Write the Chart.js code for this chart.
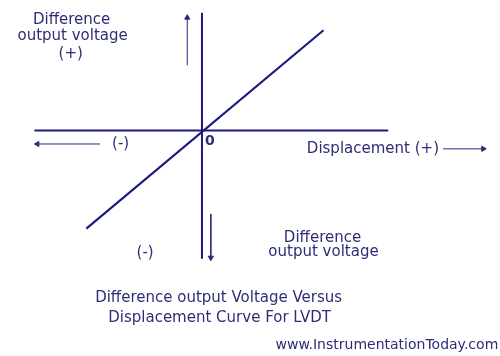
<!DOCTYPE html>
<html>
<head>
<meta charset="utf-8">
<script src="https://cdn.jsdelivr.net/npm/chart.js@4"></script>
<style>
  html, body { margin: 0; padding: 0; background: #ffffff; }
  #wrap { width: 500px; height: 356px; }
</style>
</head>
<body>
<div id="wrap"><canvas id="c" width="500" height="356"></canvas></div>
<script>
// ---- data (displacement units, origin at 0) ----
const curveDisplacement = [-118, 124];
const curveVoltage = [-101, 103];
const displacementAxisX = [-171, 190];
const voltageAxisY = [121, -132];
const arrowUpX = -15, arrowUpY = [67, 116];
const arrowDownX = 9, arrowDownY = [-86, -131];
const arrowLeftY = -14, arrowLeftX = [-104, -168];
const arrowRightY = -19, arrowRightX = [246, 287];

const topVoltageLabel = ["Difference", "output voltage", "(+)"];
const bottomVoltageLabel = ["Difference", "output voltage"];
const negLabel = "(-)";
const zeroLabel = "0";
const displacementLabel = "Displacement (+)";
const titleLines = ["Difference output Voltage Versus", "Displacement Curve For LVDT"];
const siteLabel = "www.InstrumentationToday.com";

const LINE = '#1b1b80';
const ARROW = '#2a2a7c';
const TEXT = '#2d2d78';

function pts(xs, ys) { return xs.map((x, i) => ({ x: x, y: ys[i] })); }

const datasets = [
  { data: pts(displacementAxisX, [0, 0]), borderColor: LINE, borderWidth: 2, pointRadius: 0 },
  { data: pts([0, 0], voltageAxisY), borderColor: LINE, borderWidth: 2, pointRadius: 0 },
  { data: pts(curveDisplacement, curveVoltage), borderColor: LINE, borderWidth: 2.2, pointRadius: 0 },
  { data: pts([arrowUpX, arrowUpX], arrowUpY), rot: 0 },
  { data: pts([arrowDownX, arrowDownX], arrowDownY), rot: 180 },
  { data: pts(arrowLeftX, [arrowLeftY, arrowLeftY]), rot: 270 },
  { data: pts(arrowRightX, [arrowRightY, arrowRightY]), rot: 90 }
].map(d => {
  if (d.rot !== undefined) {
    return {
      data: d.data, borderColor: ARROW, backgroundColor: ARROW, borderWidth: 1,
      pointRadius: [0, 3], pointStyle: 'triangle', rotation: [0, d.rot],
      pointBorderWidth: 1, pointBackgroundColor: ARROW, pointBorderColor: ARROW
    };
  }
  return d;
});

const FONT = '"DejaVu Sans", Verdana, sans-serif';
const labels = [
  { t: topVoltageLabel[0], x: -133, y: 113, s: 15 },
  { t: topVoltageLabel[1], x: -132, y: 97, s: 15 },
  { t: topVoltageLabel[2], x: -134, y: 78, s: 15 },
  { t: negLabel, x: -83, y: -14, s: 15 },
  { t: zeroLabel, x: 8, y: -11, s: 14, bold: true },
  { t: displacementLabel, x: 107, y: -19, s: 15, align: 'left' },
  { t: negLabel, x: -58, y: -126, s: 15 },
  { t: bottomVoltageLabel[0], x: 123, y: -111, s: 15 },
  { t: bottomVoltageLabel[1], x: 124, y: -125, s: 15 },
  { t: titleLines[0], x: 17, y: -173, s: 15 },
  { t: titleLines[1], x: 18, y: -193, s: 15 },
  { t: siteLabel, x: 75, y: -221, s: 14, align: 'left' }
];

const textPlugin = {
  id: 'diagramText',
  afterDatasetsDraw(chart) {
    const ctx = chart.ctx, xs = chart.scales.x, ys = chart.scales.y;
    ctx.save();
    ctx.fillStyle = TEXT;
    ctx.textBaseline = 'middle';
    labels.forEach(l => {
      ctx.font = (l.bold ? 'bold ' : '') + l.s + 'px ' + FONT;
      ctx.textAlign = l.align || 'center';
      ctx.fillText(l.t, xs.getPixelForValue(l.x), ys.getPixelForValue(l.y));
    });
    ctx.restore();
  }
};

new Chart(document.getElementById('c'), {
  type: 'scatter',
  data: { datasets: datasets.map(d => Object.assign({ showLine: true, fill: false, tension: 0 }, d)) },
  options: {
    responsive: false,
    animation: false,
    devicePixelRatio: 1,
    layout: { padding: 0 },
    plugins: { legend: { display: false }, tooltip: { enabled: false }, title: { display: false } },
    scales: {
      x: { type: 'linear', min: -201, max: 299, display: false },
      y: { type: 'linear', min: -227, max: 129, display: false }
    }
  },
  plugins: [textPlugin]
});
</script>
</body>
</html>
